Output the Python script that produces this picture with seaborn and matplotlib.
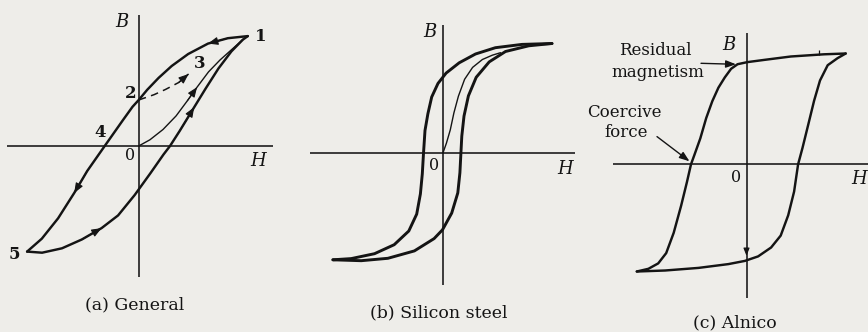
import numpy as np
import pandas as pd
import matplotlib
matplotlib.use("Agg")
import matplotlib.pyplot as plt
import seaborn as sns

# ---- (a) General hysteresis loop: H, B in arbitrary units -------------------
a_down_H = [109.1, 89.2, 69.3, 49.5, 33, 19.9, 8.5, 0, -6.2, -15.9, -34,
            -51.5, -64.5, -80.6, -96.9, -111.6]
a_down_B = [109.9, 107.8, 102.4, 92, 80, 68.1, 56.2, 46, 39.2, 25.7, 0,
            -25, -47, -72.3, -92.7, -105.6]
a_up_H = [-111.6, -96.6, -76.7, -56.9, -37.1, -20.6, -4, 11.8, 24.8, 31.3,
          41, 55.5, 66.9, 79.8, 92.7, 104.2, 109.1]
a_up_B = [-105.6, -106.7, -102.3, -93.5, -82.1, -69.4, -49, -27.1, -8.5, 0,
          15.1, 38.8, 57.4, 77.6, 94.6, 106.4, 109.9]
a_init_H = [0, 11.2, 24.3, 37.4, 48.7, 58.4, 69.8, 81.3, 92.7, 104.2]
a_init_B = [0, 6.2, 16.5, 30.1, 45.3, 58.9, 74.1, 86, 96.2, 106.4]
a_minor_H = [0, 15.3, 26.9, 40, 49.9]
a_minor_B = [46, 51.3, 56.6, 63.5, 72]
a_point_labels = ["1", "2", "3", "4", "5"]

# ---- (b) Silicon steel ------------------------------------------------------
b_down_H = [109.5, 79.5, 52.9, 33, 16.7, 3.6, -4.5, -10.8, -14.6, -17.5, -19,
            -20.2, -22.1, -25.8, -33.7, -48.3, -68, -91.3, -109.6]
b_down_B = [109.8, 108.9, 105.6, 99.3, 90.5, 80.2, 69.9, 56.3, 39.6, 22.8, 0,
            -20.6, -40.6, -60.8, -77.7, -91.4, -100.4, -105.3, -106.5]
b_up_H = [-109.6, -81.3, -54.6, -28.1, -8.4, 0, 9.2, 15.3, 17.4, 18.4, 19.3,
          21.5, 25.9, 33.7, 46.7, 63, 86.3, 109.5]
b_up_B = [-106.5, -107.4, -105, -97.6, -85.3, -76.5, -59.8, -39.6, -19.5, 0,
          17.2, 37.2, 57.4, 76, 91.4, 101.8, 107.5, 109.8]
b_init_H = [0.5, 3.9, 7.8, 11.4, 15.9, 22.1, 30.1, 39.9, 49.8, 58]
b_init_B = [0.5, 10.1, 23.5, 40.4, 57.1, 74, 85.9, 93.8, 98.1, 100.6]

# ---- (c) Alnico -------------------------------------------------------------
c_down_H = [98.7, 77, 43.8, 17.2, 0.5, -9.4, -15.9, -22.2, -28.6, -34.7, -40.8,
            -46.7, -52.7, -56, -60.1, -65.9, -73.3, -80.8, -88.8, -98.6, -110.2]
c_down_B = [110.8, 110, 107.8, 104.4, 102.2, 100.1, 95.5, 86.9, 76.6, 63.1,
            46.2, 25.9, 9.1, 0, -17.9, -41.5, -68.5, -88.8, -99.1, -104.5, -107.2]
c_up_H = [-110.2, -81.9, -48.5, -18.6, -2.1, 11.1, 24.1, 33.7, 41.2, 47.1, 51.1,
          55.5, 61.3, 67.1, 73, 80.7, 90.5, 98.7]
c_up_B = [-107.2, -106.2, -103.6, -99.8, -96.6, -92.1, -83.2, -71.3, -51, -27.3,
          0, 16.4, 39.9, 63.6, 83.8, 99.1, 106.1, 110.8]

captions = ["(a) General", "(b) Silicon steel", "(c) Alnico"]

PAPER = "#eeede9"
INK = "#141414"
SERIF = "DejaVu Serif"

sns.set_theme(style="white", rc={"figure.facecolor": PAPER,
                                 "axes.facecolor": "none"})
plt.rcParams["font.family"] = [SERIF, "DejaVu Sans"]

W, H = 868, 332
fig = plt.figure(figsize=(W / 100, H / 100), dpi=100)
fig.patch.set_facecolor(PAPER)


def panel(origin):
    """Full-figure axes, 1 data unit per pixel, origin of H-B axes at `origin`."""
    ox, oy = origin
    ax = fig.add_axes([0, 0, 1, 1])
    ax.set_xlim(-ox, W - ox)
    ax.set_ylim(-(H - oy), oy)
    ax.set_axis_off()
    ax.patch.set_alpha(0)
    return ax


def curve(ax, h, b, lw, **kw):
    df = pd.DataFrame({"H": h, "B": b})
    sns.lineplot(data=df, x="H", y="B", sort=False, estimator=None, ax=ax,
                 color=INK, lw=lw, solid_joinstyle="round",
                 solid_capstyle="round", **kw)


def head(ax, h, b, i, scale=10):
    """Arrowhead at point i of a curve, pointing along the curve."""
    ax.annotate("", xy=(h[i], b[i]), xytext=(h[i - 1], b[i - 1]),
                arrowprops=dict(arrowstyle="-|>,head_length=0.6,head_width=0.24",
                                color=INK, lw=0.8, shrinkA=0, shrinkB=0,
                                mutation_scale=scale))


def axes_cross(ax, hspan, bspan, lw=1.15):
    ax.hlines(0, *hspan, color=INK, lw=lw)
    ax.vlines(0, *bspan, color=INK, lw=lw)


def label(ax, h, b, s, size=12.5, **kw):
    ax.text(h, b, s, ha="center", va="center", fontsize=size, color=INK,
            family=SERIF, **kw)


# (a) General
ax = panel((138.7, 146))
axes_cross(ax, (-131.7, 134.3), (-131, 131))
curve(ax, a_down_H, a_down_B, 1.75)
curve(ax, a_up_H, a_up_B, 1.75)
curve(ax, a_init_H, a_init_B, 1.0)
curve(ax, a_minor_H, a_minor_B, 1.1, linestyle=(0, (5, 3.5)))
head(ax, a_down_H, a_down_B, 2)
head(ax, a_down_H, a_down_B, 12)
head(ax, a_up_H, a_up_B, 4)
head(ax, a_up_H, a_up_B, 11)
head(ax, a_init_H, a_init_B, 5)
head(ax, a_minor_H, a_minor_B, 4)
for (h, b), s in zip([(122.2, 109.5), (-8.5, 52.9), (61.4, 82.3), (-39, 13.5),
                      (-124.6, -108.5)], a_point_labels):
    label(ax, h, b, s, size=12, weight="bold")
label(ax, -8.9, -9.5, "0", size=11.5)
label(ax, 119, -15, "H", style="italic", size=13)
label(ax, -16.5, 124, "B", style="italic", size=13)
label(ax, -4, -159, captions[0], size=12.5)

# (b) Silicon steel
ax = panel((442.5, 153.3))
axes_cross(ax, (-132.5, 132.5), (-131.7, 128.3))
curve(ax, b_down_H, b_down_B, 2.1)
curve(ax, b_up_H, b_up_B, 2.1)
curve(ax, b_init_H, b_init_B, 1.0)
label(ax, -8.9, -11.9, "0", size=11.5)
label(ax, 123, -15.3, "H", style="italic", size=13)
label(ax, -12.9, 121, "B", style="italic", size=13)
label(ax, -4, -160, captions[1], size=12.5)

# (c) Alnico
ax = panel((747, 164.3))
axes_cross(ax, (-134, 121), (-134, 131))
curve(ax, c_down_H, c_down_B, 1.75)
curve(ax, c_up_H, c_up_B, 1.75)
label(ax, -11.2, -12.8, "0", size=11.5)
label(ax, 112.5, -15, "H", style="italic", size=13)
label(ax, -18.4, 118.8, "B", style="italic", size=13)
label(ax, -92, 114, "Residual", size=12)
label(ax, -89, 92, "magnetism", size=12)
label(ax, -123, 52, "Coercive", size=12)
label(ax, -121, 32, "force", size=12)
arrow = dict(arrowstyle="-|>,head_length=0.6,head_width=0.22", color=INK,
             lw=1.0, shrinkA=0, shrinkB=0, mutation_scale=10)
ax.annotate("", xy=(-11, 100), xytext=(-46, 101), arrowprops=arrow)
ax.annotate("", xy=(-57.5, 3), xytext=(-90, 27.7), arrowprops=arrow)
# small direction marks on the loop
ax.annotate("", xy=(-0.5, -91.5), xytext=(-0.5, -84),
            arrowprops=dict(arrowstyle="-|>,head_length=0.5,head_width=0.2",
                            color=INK, lw=0.8, shrinkA=0, shrinkB=0,
                            mutation_scale=9))
ax.vlines(72, 109.5, 114, color=INK, lw=0.9)
label(ax, -12, -159, captions[2], size=12.5)

fig.savefig("out.png", dpi=100, facecolor=PAPER)
